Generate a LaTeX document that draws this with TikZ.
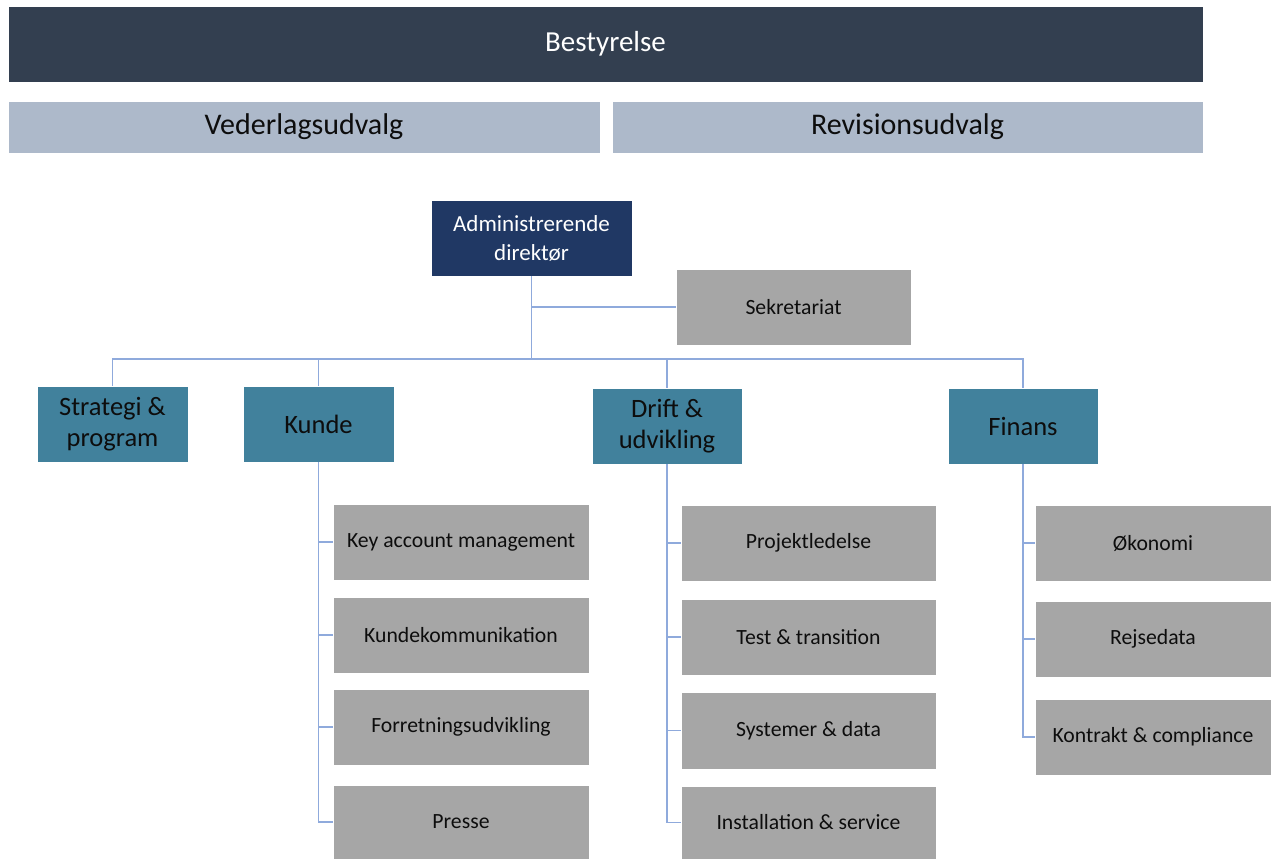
\documentclass[tikz,border=0pt]{standalone}
\usepackage{fontspec}
\setmainfont{Carlito}
\definecolor{board}{HTML}{333F50}
\definecolor{committee}{HTML}{ADB9CA}
\definecolor{ceo}{HTML}{203864}
\definecolor{unit}{HTML}{41819C}
\definecolor{sub}{HTML}{A6A6A6}
\definecolor{conn}{HTML}{8FAADC}
\definecolor{ink}{HTML}{0D0D0D}
\tikzset{
  base/.style={rectangle, inner sep=0pt, align=center, draw=white, line width=0.6pt},
  boardbox/.style={base, fill=board, text=white, font=\fontsize{29}{34}\selectfont},
  combox/.style={base, fill=committee, text=ink, font=\fontsize{30}{35}\selectfont},
  ceobox/.style={base, fill=ceo, text=white, font=\fontsize{23}{29}\selectfont},
  unitbox/.style={base, fill=unit, text=ink, font=\fontsize{26.5}{31}\selectfont},
  subbox/.style={base, fill=sub, text=ink, font=\fontsize{21.7}{26}\selectfont},
  link/.style={draw=conn, line width=1.4pt}
}
\begin{document}
\begin{tikzpicture}[x=1pt,y=-1pt]
\useasboundingbox[fill=white] (0,0) rectangle (1277,859);
% top
\node[boardbox, minimum width=1195pt, minimum height=76pt] (bestyrelse) at (605.5,44) {Bestyrelse};
\node[combox, minimum width=592pt, minimum height=52pt] (vederlag) at (304,127) {Vederlagsudvalg};
\node[combox, minimum width=591pt, minimum height=52pt] (revision) at (907.5,127) {Revisionsudvalg};
% ceo
\node[ceobox, minimum width=201pt, minimum height=76pt] (adm) at (531.5,238) {Administrerende\\direktør};
\node[subbox, minimum width=235pt, minimum height=76pt] (sek) at (793.5,307) {Sekretariat};
% units
\node[unitbox, minimum width=151pt, minimum height=76pt] (strat) at (112.5,424) {Strategi \&\\program};
\node[unitbox, minimum width=151pt, minimum height=76pt] (kunde) at (318.5,424) {Kunde};
\node[unitbox, minimum width=150pt, minimum height=76pt] (drift) at (667,426) {Drift \&\\udvikling};
\node[unitbox, minimum width=150pt, minimum height=76pt] (finans) at (1023,426) {Finans};
% Kunde children
\node[subbox, minimum width=256pt, minimum height=76pt] (kam) at (461,542) {Key account management};
\node[subbox, minimum width=256pt, minimum height=76pt] (kk) at (461,635) {Kundekommunikation};
\node[subbox, minimum width=256pt, minimum height=76pt] (fu) at (461,727) {Forretningsudvikling};
\node[subbox, minimum width=256pt, minimum height=74pt] (presse) at (461,822) {Presse};
% Drift children
\node[subbox, minimum width=255pt, minimum height=76pt] (pl) at (808.5,543) {Projektledelse};
\node[subbox, minimum width=255pt, minimum height=76pt] (tt) at (808.5,637) {Test \& transition};
\node[subbox, minimum width=255pt, minimum height=77pt] (sd) at (808.5,730.5) {Systemer \& data};
\node[subbox, minimum width=255pt, minimum height=73pt] (is) at (808.5,822.5) {Installation \& service};
% Finans children
\node[subbox, minimum width=236pt, minimum height=76pt] (oek) at (1153,543) {Økonomi};
\node[subbox, minimum width=236pt, minimum height=76pt] (rej) at (1153,639) {Rejsedata};
\node[subbox, minimum width=236pt, minimum height=76pt] (kc) at (1153,737) {Kontrakt \& compliance};
% connectors
\coordinate (bus) at (531.5,359);
\draw[link] (adm.south) |- (sek.west);
\draw[link] (adm.south) -- (bus);
\draw[link] (strat.north) |- (bus) -| (finans.north);
\draw[link] (kunde.north) -- (kunde.north |- bus);
\draw[link] (drift.north) -- (drift.north |- bus);
\draw[link] (kunde.south) |- (kam.west);
\draw[link] (kunde.south) |- (kk.west);
\draw[link] (kunde.south) |- (fu.west);
\draw[link] (kunde.south) |- (presse.west);
\draw[link] (drift.south) |- (pl.west);
\draw[link] (drift.south) |- (tt.west);
\draw[link] (drift.south) |- (sd.west);
\draw[link] (drift.south) |- (is.west);
\draw[link] (finans.south) |- (oek.west);
\draw[link] (finans.south) |- (rej.west);
\draw[link] (finans.south) |- (kc.west);
\end{tikzpicture}
\end{document}
